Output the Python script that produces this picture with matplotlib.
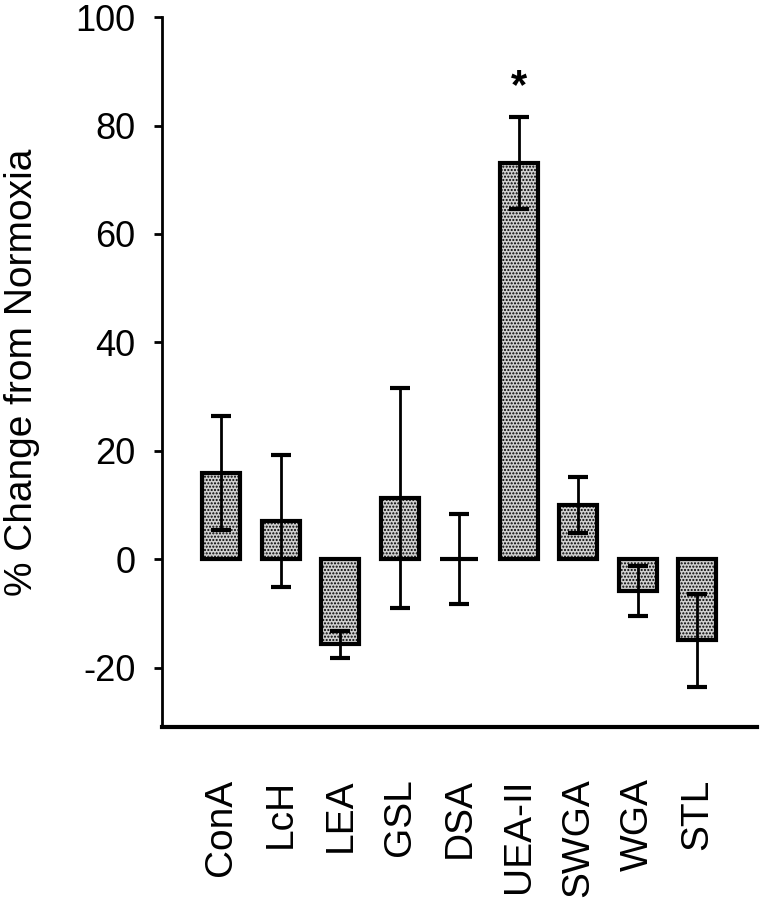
# Lectin binding change under hypoxia
# Bar chart with error bars, old-journal style

import matplotlib
matplotlib.use('Agg')
import matplotlib.pyplot as plt

lectins = ['ConA', 'LcH', 'LEA', 'GSL', 'DSA', 'UEA-II', 'SWGA', 'WGA', 'STL']
pct_change = [15.9, 7.0, -15.7, 11.3, 0.0, 73.1, 10.0, -5.9, -15.0]
sem = [10.5, 12.2, 2.5, 20.3, 8.3, 8.5, 5.2, 4.6, 8.5]
significant = ['UEA-II']

plt.rcParams['font.family'] = ['Liberation Sans', 'DejaVu Sans']
plt.rcParams['axes.unicode_minus'] = False
plt.rcParams['hatch.color'] = '#4a4a4a'
plt.rcParams['hatch.linewidth'] = 1.0

fig = plt.figure(figsize=(7.6, 9), dpi=100)
ax = fig.add_axes([0.213, 0.192, 0.783, 0.789])

x = list(range(1, len(lectins) + 1))
ax.bar(x, pct_change, width=0.64, color='#d0d0d0', edgecolor='black',
       linewidth=3, hatch='.....', zorder=2)
ax.errorbar(x, pct_change, yerr=sem, fmt='none', ecolor='black',
            elinewidth=2, capsize=7, capthick=3, zorder=3)

# significance marker
for name in significant:
    i = lectins.index(name)
    ax.text(x[i], pct_change[i] + sem[i] + 5.5, '*', ha='center', va='center',
            fontsize=30, fontweight='bold')

ax.set_xlim(0, 10)
ax.set_ylim(-31, 100)
ax.set_yticks([-20, 0, 20, 40, 60, 80, 100])
ax.set_xticks(x)
ax.set_xticklabels(lectins, rotation=90, fontsize=28)
ax.tick_params(axis='x', length=0, pad=37)
ax.tick_params(axis='y', labelsize=26, length=6, width=2, pad=13)

ax.spines['top'].set_visible(False)
ax.spines['right'].set_visible(False)
ax.spines['left'].set_linewidth(2)
ax.spines['bottom'].set_linewidth(3)

ax.set_ylabel('% Change from Normoxia', fontsize=28)
ax.yaxis.set_label_coords(-0.205, 0.5)

plt.savefig('out.png', dpi=100)
